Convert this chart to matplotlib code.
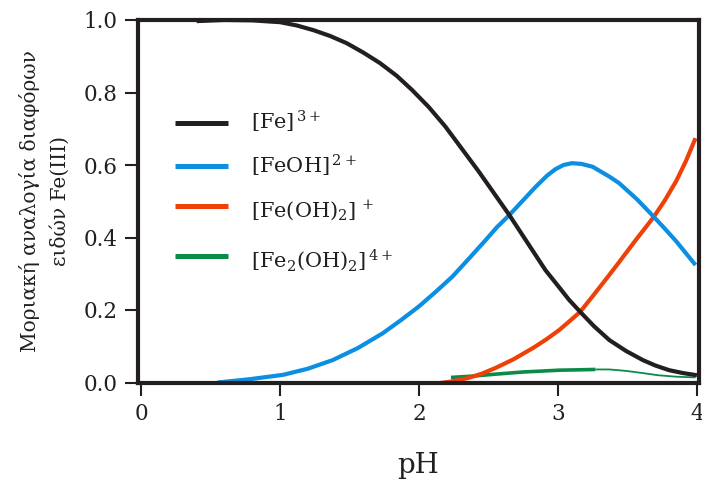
import matplotlib
matplotlib.use("Agg")
import matplotlib.pyplot as plt
from matplotlib.lines import Line2D

plt.rcParams['font.family'] = ['DejaVu Serif']
plt.rcParams['mathtext.fontset'] = 'dejavuserif'

# ---- data ----
ph_fe = [0.40, 0.60, 0.80, 1.00, 1.12, 1.24, 1.36, 1.48, 1.60, 1.72, 1.84, 1.95, 2.07,
         2.19, 2.31, 2.43, 2.54, 2.65, 2.78, 2.91, 3.01, 3.08, 3.16, 3.26, 3.37, 3.49,
         3.61, 3.70, 3.80, 3.90, 4.00]
fe3 = [0.997, 1.0, 0.999, 0.994, 0.985, 0.972, 0.956, 0.936, 0.91, 0.881, 0.846, 0.807, 0.76,
       0.706, 0.644, 0.582, 0.522, 0.462, 0.386, 0.310, 0.262, 0.228, 0.195, 0.155, 0.117, 0.087,
       0.062, 0.047, 0.034, 0.026, 0.02]

ph_feoh = [0.55, 0.78, 1.02, 1.20, 1.38, 1.56, 1.74, 1.87, 2.00, 2.12, 2.24, 2.36, 2.48,
           2.56, 2.65, 2.75, 2.84, 2.92, 2.98, 3.04, 3.10, 3.17, 3.25, 3.37, 3.44, 3.57,
           3.69, 3.77, 3.85, 3.92, 3.99]
feoh = [0.0, 0.009, 0.021, 0.038, 0.062, 0.095, 0.136, 0.172, 0.21, 0.25, 0.292, 0.342, 0.393,
        0.428, 0.462, 0.503, 0.540, 0.570, 0.588, 0.600, 0.605, 0.603, 0.595, 0.568, 0.550, 0.505,
        0.457, 0.424, 0.39, 0.357, 0.324]

ph_feoh2 = [2.03, 2.12, 2.22, 2.35, 2.45, 2.55, 2.68, 2.82, 2.92, 3.01, 3.08, 3.16, 3.26,
            3.37, 3.44, 3.56, 3.69, 3.77, 3.85, 3.92, 3.99]
feoh2 = [-0.004, -0.003, 0.002, 0.012, 0.024, 0.040, 0.064, 0.095, 0.12, 0.145, 0.168, 0.195,
         0.243, 0.297, 0.332, 0.393, 0.457, 0.503, 0.555, 0.61, 0.674]

ph_fe2_thick = [2.23, 2.40, 2.55, 2.75, 2.91, 3.01, 3.15, 3.27]
fe2_thick = [0.014, 0.018, 0.023, 0.029, 0.032, 0.034, 0.035, 0.036]
ph_fe2_thin = [3.27, 3.37, 3.49, 3.61, 3.72, 3.85, 3.99]
fe2_thin = [0.036, 0.036, 0.032, 0.026, 0.020, 0.016, 0.014]

labels = [r"$\mathrm{[Fe]}^{\,3+}$", r"$\mathrm{[FeOH]}^{\,2+}$",
          r"$\mathrm{[Fe(OH)_2]}^{\,+}$", r"$\mathrm{[Fe_2(OH)_2]}^{\,4+}$"]
xticks = [0, 1, 2, 3, 4]
yticks = [0.0, 0.2, 0.4, 0.6, 0.8, 1.0]

c_black = '#231f20'
c_blue = '#0a8fe3'
c_red = '#ef4008'
c_green = '#0a8c48'

fig = plt.figure(figsize=(7.02, 4.79), dpi=100)
ax = fig.add_axes([138/702, 1-382.5/479, 561/702, 362.5/479])

kw = dict(solid_capstyle='butt', solid_joinstyle='round')
ax.plot(ph_fe2_thick, fe2_thick, color=c_green, lw=2.6, **kw)
ax.plot(ph_fe2_thin, fe2_thin, color=c_green, lw=1.3, **kw)
ax.plot(ph_feoh2, feoh2, color=c_red, lw=3.0, **kw)
ax.plot(ph_feoh, feoh, color=c_blue, lw=3.0, **kw)
ax.plot(ph_fe, fe3, color=c_black, lw=3.0, **kw)

ax.set_xlim(-0.022, 4.015)
ax.set_ylim(0, 1.0)
ax.set_xticks(xticks)
ax.set_xticklabels([str(v) for v in xticks])
ax.set_yticks(yticks)
ax.set_yticklabels([f"{v:.1f}" for v in yticks])
for s in ax.spines.values():
    s.set_linewidth(3.0)
    s.set_color(c_black)
ax.tick_params(direction='out', length=9.5, width=1.5, color=c_black,
               labelsize=15.5, pad=5, labelcolor='#231f20')

ax.set_xlabel('pH', fontsize=20, labelpad=20, color='#231f20')
ax.set_ylabel('Μοριακή αναλογία διαφόρων\nειδών Fe(III)', fontsize=14.5,
              linespacing=1.65, labelpad=10, color='#231f20')

# legend drawn manually
leg_y = [0.716, 0.597, 0.487, 0.349]
txt_y = [0.697, 0.577, 0.457, 0.319]
cols = [c_black, c_blue, c_red, c_green]
for yl, yt, c, lab in zip(leg_y, txt_y, cols, labels):
    ax.add_line(Line2D([0.066, 0.160], [yl, yl], transform=ax.transAxes,
                       color=c, lw=3.6, solid_capstyle='butt'))
    ax.text(0.201, yt, lab, transform=ax.transAxes, fontsize=15,
            va='baseline', ha='left', color='#231f20')

fig.savefig('out.png', dpi=100)
